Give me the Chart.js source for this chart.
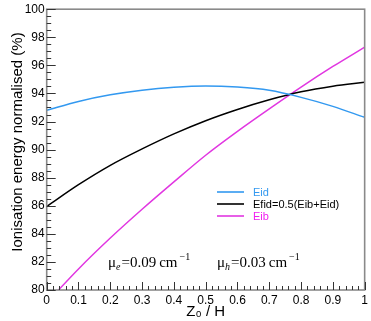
<!DOCTYPE html>
<html><head><meta charset="utf-8">
<script src="https://cdn.jsdelivr.net/npm/chart.js@4/dist/chart.umd.min.js"></script>
<style>html,body{margin:0;padding:0;background:#fff}canvas{display:block}</style>
</head><body>
<canvas id="c" width="371" height="321"></canvas>
<script>
// ---- data ----
const zOverH = [0, 0.1, 0.2, 0.3, 0.4, 0.5, 0.6, 0.7, 0.8, 0.9, 1.0];
const eid    = [92.80, 93.43, 93.90, 94.23, 94.44, 94.53, 94.45, 94.22, 93.72, 93.08, 92.30];
const efid   = [85.95, 87.50, 88.88, 90.05, 91.12, 92.06, 92.86, 93.55, 94.12, 94.52, 94.80];
const eib    = [79.10, 81.50, 83.70, 85.75, 87.70, 89.60, 91.30, 92.90, 94.45, 95.92, 97.30];
const seriesLabels = ['Eid', 'Efid=0.5(Eib+Eid)', 'Eib'];
const xTitle = 'Z\u2080 / H';
const yTitle = 'Ionisation energy normalised (%)';
const muLabels = [['e', '0.09'], ['h', '0.03']];

const colors = ['rgb(51,153,240)', '#000000', 'rgb(225,55,225)'];
const textColors = ['rgb(51,153,240)', '#000000', 'rgb(240,30,240)'];

const toPts = arr => zOverH.map((z, i) => ({x: z, y: arr[i]}));
const seriesData = [eid, efid, eib];

const decor = {
  id: 'decor',
  afterDatasetsDraw(chart) {
    const {ctx, chartArea: a, scales: {x, y}} = chart;
    ctx.save();
    // frame
    ctx.strokeStyle = '#8a8a8a';
    ctx.lineWidth = 1.6;
    ctx.strokeRect(a.left, a.top, a.right - a.left, a.bottom - a.top);
    // ticks (inward)
    ctx.strokeStyle = '#333';
    ctx.lineWidth = 1;
    ctx.beginPath();
    for (let i = 0; i <= 40; i++) {
      const py = Math.round(y.getPixelForValue(80 + i * 0.5)) + 0.5;
      const len = (i % 4 === 0) ? 9 : 4.5;
      ctx.moveTo(a.left, py); ctx.lineTo(a.left + len, py);
    }
    for (let i = 0; i <= 50; i++) {
      const px = Math.round(x.getPixelForValue(i * 0.02)) + 0.5;
      const len = (i % 5 === 0) ? 8 : 4;
      ctx.moveTo(px, a.bottom); ctx.lineTo(px, a.bottom - len);
    }
    ctx.stroke();
    // y title
    ctx.save();
    ctx.translate(18, 142);
    ctx.rotate(-Math.PI / 2);
    ctx.font = '15px "Liberation Sans", Arial, sans-serif';
    ctx.fillStyle = '#000';
    ctx.textAlign = 'center';
    ctx.textBaseline = 'middle';
    ctx.fillText(yTitle, 0, 0);
    ctx.restore();
    // legend
    const lx0 = 217, lx1 = 244, tx = 253, ly = [192, 204, 216];
    ctx.font = '11px "Liberation Sans", Arial, sans-serif';
    ctx.textBaseline = 'middle';
    ctx.textAlign = 'left';
    chart.data.datasets.forEach((ds, i) => {
      ctx.strokeStyle = ds.borderColor; ctx.lineWidth = 1.6;
      ctx.beginPath(); ctx.moveTo(lx0, ly[i]); ctx.lineTo(lx1, ly[i]); ctx.stroke();
      ctx.fillStyle = textColors[i];
      ctx.fillText(ds.label, tx, ly[i] + 0.5);
    });
    // mu annotations
    const base = 267;
    const starts = [108, 217];
    ctx.fillStyle = '#000';
    ctx.textBaseline = 'alphabetic';
    muLabels.forEach(([sub, val], k) => {
      let cx = starts[k];
      ctx.font = '15px "Liberation Serif", "Times New Roman", serif';
      ctx.fillText('\u03bc', cx, base); cx += ctx.measureText('\u03bc').width;
      ctx.font = 'italic 10px "Liberation Serif", "Times New Roman", serif';
      ctx.fillText(sub, cx, base + 3); cx += ctx.measureText(sub).width + 1;
      ctx.font = '15px "Liberation Serif", "Times New Roman", serif';
      const main = '=' + val + '\u2009cm';
      ctx.fillText(main, cx, base); cx += ctx.measureText(main).width + 2;
      ctx.font = '10px "Liberation Serif", "Times New Roman", serif';
      ctx.fillText('\u2212' + '1', cx, base - 7);
    });
    ctx.restore();
  }
};

new Chart(document.getElementById('c'), {
  type: 'line',
  data: {
    datasets: seriesData.map((arr, i) => ({
      label: seriesLabels[i],
      data: toPts(arr),
      borderColor: colors[i],
      borderWidth: 1.5,
      pointRadius: 0,
      cubicInterpolationMode: 'monotone',
      fill: false
    }))
  },
  options: {
    responsive: false,
    animation: false,
    devicePixelRatio: 1,
    layout: {padding: {left: 0, right: 3.7, top: 7, bottom: 0}},
    plugins: {legend: {display: false}, tooltip: {enabled: false}},
    scales: {
      x: {
        type: 'linear', min: 0, max: 1,
        grid: {display: false, drawTicks: false},
        border: {display: false},
        ticks: {
          stepSize: 0.1, autoSkip: false, maxRotation: 0, padding: 3,
          color: '#000', font: {family: '"Liberation Sans", Arial, sans-serif', size: 12},
          callback: v => String(+(+v).toFixed(1))
        },
        title: {display: true, text: xTitle, color: '#000', padding: 0,
          font: {family: '"Liberation Sans", Arial, sans-serif', size: 15}},
        afterFit: s => { s.height = 31; }
      },
      y: {
        min: 80, max: 100,
        grid: {display: false, drawTicks: false},
        border: {display: false},
        ticks: {
          stepSize: 2, padding: 2,
          color: '#000', font: {family: '"Liberation Sans", Arial, sans-serif', size: 12}
        },
        title: {display: false},
        afterFit: s => { s.width = 46.7; }
      }
    }
  },
  plugins: [decor]
});
</script>
</body></html>
